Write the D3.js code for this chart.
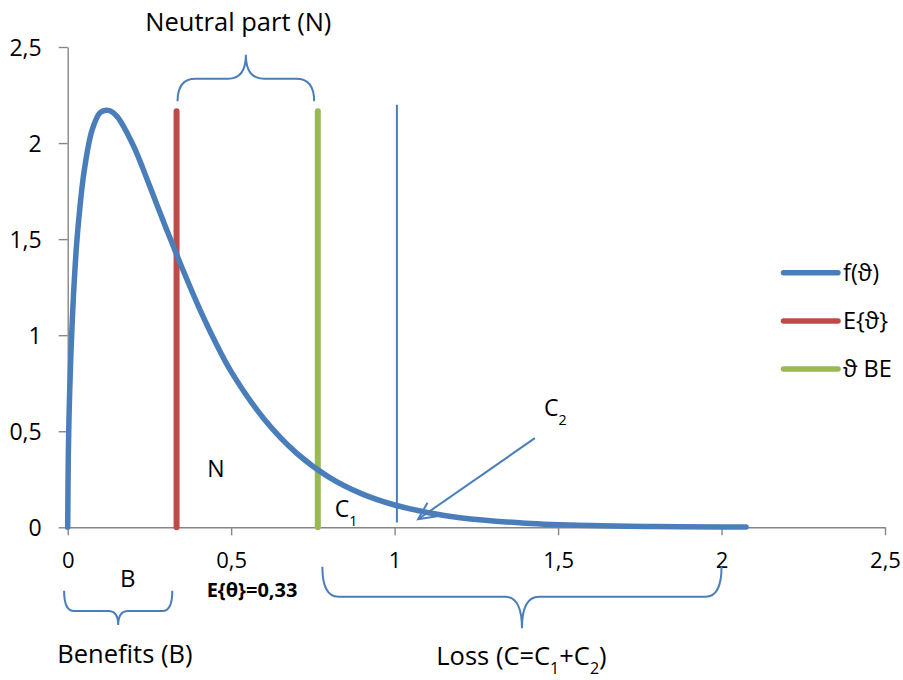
<!DOCTYPE html>
<html>
<head>
<meta charset="utf-8">
<script src="https://cdn.jsdelivr.net/npm/d3@7"></script>
<style>
  html, body { margin: 0; padding: 0; background: #ffffff; }
  svg { display: block; font-family: "Open Sans", "Noto Sans", sans-serif; }
</style>
</head>
<body>
<svg id="chart" width="903" height="680"></svg>
<script>
// ---- data ----
const thetaValues = [0, 0.002, 0.005, 0.01, 0.02, 0.03, 0.05, 0.075, 0.1, 0.125, 0.15, 0.2, 0.25, 0.3, 0.35, 0.4, 0.45, 0.5, 0.6, 0.7, 0.8, 0.9, 1.0, 1.1, 1.2, 1.4, 1.6, 1.8, 2.0, 2.075];
const densityValues = [0, 0.39, 0.64, 0.91, 1.28, 1.53, 1.85, 2.07, 2.16, 2.17, 2.14, 1.99, 1.78, 1.56, 1.35, 1.15, 0.97, 0.81, 0.565, 0.386, 0.26, 0.174, 0.116, 0.077, 0.05, 0.0215, 0.009, 0.004, 0.0016, 0.001];
const expectedTheta = 0.333;       // E{θ}
const breakEvenTheta = 0.765;      // ϑ BE
const markerLineTop = 2.165;
const thinLineTheta = 1.007;
const thinLineRange = [0.025, 2.2];
const xTickValues = [0, 0.5, 1, 1.5, 2, 2.5];
const xTickLabels = ["0", "0,5", "1", "1,5", "2", "2,5"];
const yTickValues = [0, 0.5, 1, 1.5, 2, 2.5];
const yTickLabels = ["0", "0,5", "1", "1,5", "2", "2,5"];
const legendLabels = ["f(\u03D1)", "E{\u03D1}", "\u03D1 BE"];
const seriesColors = ["#4A7EBB", "#BE4B48", "#98B954"];
// braces: [x1, x2, yEnds, yBar, yTip] in data units
const braceNeutral = [0.336, 0.754, 2.217, 2.335, 2.46];
const braceBenefit = [-0.011, 0.320, -0.33, -0.436, -0.509];
const braceLoss = [0.779, 2.0, -0.205, -0.361, -0.526];
const arrowC2 = [[1.429, 0.464], [1.072, 0.042]];

// ---- layout ----
const svg = d3.select("#chart");
const x = d3.scaleLinear().domain([0, 2.5]).range([67.7, 885]);
const y = d3.scaleLinear().domain([0, 2.5]).range([527.3, 47]);
const axisColor = "#868686";
const blue = seriesColors[0];

// axes
const yAxis = d3.axisLeft(y).tickValues(yTickValues).tickSize(9).tickSizeOuter(0)
  .tickFormat((d, i) => yTickLabels[i]);
const gy = svg.append("g").attr("transform", `translate(${x(0)},0)`).call(yAxis);
gy.select(".domain").attr("stroke", axisColor).attr("stroke-width", 1.4);
gy.selectAll(".tick line").attr("stroke", axisColor).attr("stroke-width", 1.4);
gy.selectAll(".tick text").attr("x", -26).attr("dy", "0.36em")
  .attr("font-size", 23).attr("fill", "#000").attr("font-family", "Open Sans");

const xAxis = d3.axisBottom(x).tickValues(xTickValues).tickSize(8).tickSizeOuter(0)
  .tickFormat((d, i) => xTickLabels[i]);
const gx = svg.append("g").attr("transform", `translate(0,${y(0)})`).call(xAxis);
gx.select(".domain").attr("stroke", axisColor).attr("stroke-width", 1.4);
gx.selectAll(".tick line").attr("stroke", axisColor).attr("stroke-width", 1.4);
gx.selectAll(".tick text").attr("y", 41.2).attr("dy", 0)
  .attr("font-size", 22).attr("fill", "#000").attr("font-family", "Open Sans");

// thin vertical line at θ≈1
svg.append("line")
  .attr("x1", x(thinLineTheta)).attr("x2", x(thinLineTheta))
  .attr("y1", y(thinLineRange[0])).attr("y2", y(thinLineRange[1]))
  .attr("stroke", blue).attr("stroke-width", 2);

// vertical marker lines
[[expectedTheta, seriesColors[1]], [breakEvenTheta, seriesColors[2]]].forEach(([t, c]) => {
  svg.append("line")
    .attr("x1", x(t)).attr("x2", x(t))
    .attr("y1", y(0)).attr("y2", y(markerLineTop))
    .attr("stroke", c).attr("stroke-width", 6).attr("stroke-linecap", "round");
});

// density curve
const pts = thetaValues.map((t, i) => [t, densityValues[i]]);
svg.append("path")
  .attr("d", d3.line().x(d => x(d[0])).y(d => y(d[1])).curve(d3.curveCatmullRom.alpha(0.5))(pts))
  .attr("fill", "none").attr("stroke", blue).attr("stroke-width", 5.5)
  .attr("stroke-linecap", "round").attr("stroke-linejoin", "round");

// braces
function bracePath(b, rEnd, rMid) {
  const x1 = x(b[0]), x2 = x(b[1]), yE = y(b[2]), yB = y(b[3]), yT = y(b[4]);
  const xm = (x1 + x2) / 2;
  const p = d3.path();
  p.moveTo(x1, yE);
  p.quadraticCurveTo(x1, yB, x1 + rEnd, yB);
  p.lineTo(xm - rMid, yB);
  p.quadraticCurveTo(xm, yB, xm, yT);
  p.quadraticCurveTo(xm, yB, xm + rMid, yB);
  p.lineTo(x2 - rEnd, yB);
  p.quadraticCurveTo(x2, yB, x2, yE);
  return p.toString();
}
[[braceNeutral, 18, 18], [braceBenefit, 10, 10], [braceLoss, 16, 17]].forEach(([b, r1, r2]) => {
  svg.append("path").attr("d", bracePath(b, r1, r2))
    .attr("fill", "none").attr("stroke", blue).attr("stroke-width", 2);
});

// arrow to C2
const a0 = [x(arrowC2[0][0]), y(arrowC2[0][1])], a1 = [x(arrowC2[1][0]), y(arrowC2[1][1])];
svg.append("line").attr("x1", a0[0]).attr("y1", a0[1]).attr("x2", a1[0]).attr("y2", a1[1])
  .attr("stroke", blue).attr("stroke-width", 2);
(function () {
  const ang = Math.atan2(a0[1] - a1[1], a0[0] - a1[0]);
  const L = 19, spread = 0.45;
  const w1 = [a1[0] + L * Math.cos(ang + spread), a1[1] + L * Math.sin(ang + spread)];
  const w2 = [a1[0] + L * Math.cos(ang - spread), a1[1] + L * Math.sin(ang - spread)];
  svg.append("path").attr("d", `M${w1[0]},${w1[1]}L${a1[0]},${a1[1]}L${w2[0]},${w2[1]}`)
    .attr("fill", "none").attr("stroke", blue).attr("stroke-width", 2).attr("stroke-linejoin", "miter");
})();

// annotation texts
function label(tx, ty, parts, opts = {}) {
  const t = svg.append("text").attr("x", x(tx)).attr("y", y(ty))
    .attr("font-size", opts.size || 25).attr("fill", "#000")
    .attr("text-anchor", opts.anchor || "middle")
    .attr("font-weight", opts.weight || "normal");
  parts.forEach(p => {
    if (typeof p === "string") t.append("tspan").text(p);
    else t.append("tspan").attr("font-size", (opts.size || 25) * 0.62).attr("dy", p.dy).text(p.t);
  });
  return t;
}
label(0.522, 2.585, ["Neutral part (N)"], { size: 25.5 });
label(0.4535, 0.2635, ["N"], { size: 23 });
label(0.817, 0.055, ["C", { t: "1", dy: 9 }], { size: 23, anchor: "start" });
label(1.457, 0.58, ["C", { t: "2", dy: 9 }], { size: 23, anchor: "start" });
label(0.184, -0.311, ["B"], { size: 24 });
label(0.425, -0.362, ["E{\u03B8}=0,33"], { size: 20, anchor: "start", weight: "bold" });
label(0.175, -0.707, ["Benefits (B)"], { size: 25.5 });
const loss = label(1.388, -0.717, ["Loss (C=C"], { size: 25.5 });
loss.append("tspan").attr("font-size", 16).attr("dy", 9).text("1");
loss.append("tspan").attr("dy", -9).text("+C");
loss.append("tspan").attr("font-size", 16).attr("dy", 9).text("2");
loss.append("tspan").attr("dy", -9).text(")");

// legend
const lg = svg.append("g");
const legendYs = [272.7, 321, 369];
legendLabels.forEach((lab, i) => {
  const g = lg.append("g").attr("transform", `translate(0,${legendYs[i]})`);
  g.append("line").attr("x1", 783.5).attr("x2", 838).attr("y1", 0).attr("y2", 0)
    .attr("stroke", seriesColors[i]).attr("stroke-width", 5.5).attr("stroke-linecap", "round");
  g.append("text").attr("x", 843).attr("y", 0).attr("dy", "0.36em")
    .attr("font-size", 23.5).attr("fill", "#000").text(lab);
});
</script>
</body>
</html>
